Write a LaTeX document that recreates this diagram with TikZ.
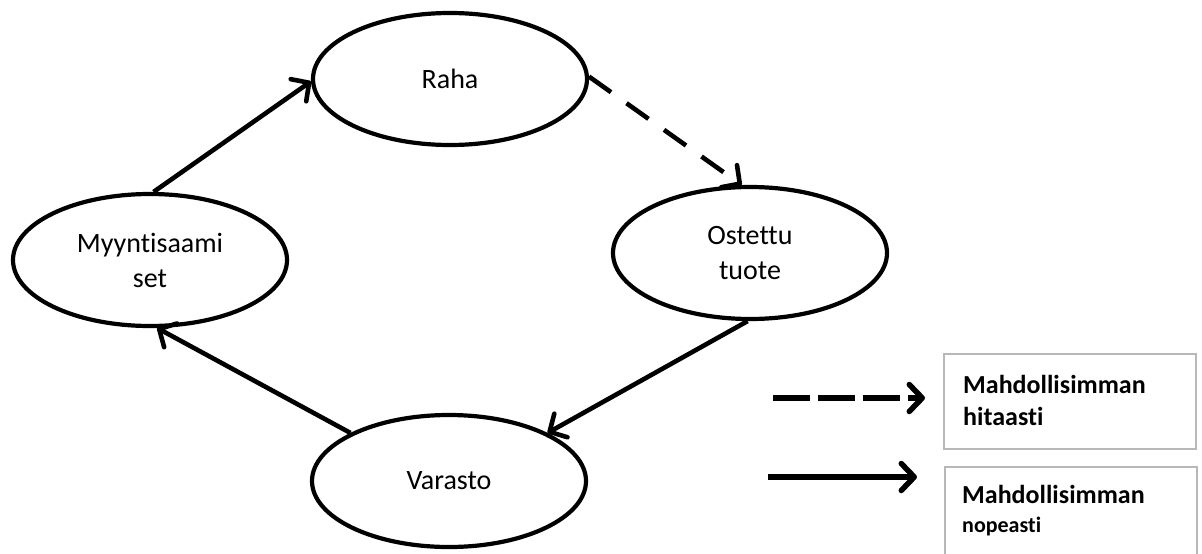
\documentclass[tikz,border=0pt]{standalone}
\usepackage{fontspec}
\setmainfont{Carlito}[Ligatures={NoCommon,NoContextual}]
\usetikzlibrary{shapes.geometric,arrows.meta}
\begin{document}
\begin{tikzpicture}[x=1pt,y=-1pt,
  state/.style={draw,ellipse,line width=4.2pt,minimum width=274pt,minimum height=132pt,inner sep=0pt,align=center,font=\fontsize{28}{35}\selectfont},
  flow/.style={line width=4.6pt,-{Straight Barb[length=13pt,width=27pt,line cap=round,line join=round]}},
  slowflow/.style={flow,dash pattern=on 27pt off 19pt},
  legbox/.style={draw=black!28,line width=2pt,minimum width=252pt,inner sep=0pt},
  legtext/.style={anchor=base west,inner sep=0pt,font=\bfseries\fontsize{26}{30}\selectfont}]
\useasboundingbox (0,0) rectangle (1202,554);
\node[state] (raha) at (450,79) {Raha};
\node[state] (ost) at (750,253) {Ostettu\\tuote};
\node[state] (myy) at (150,260) {Myyntisaami\\set};
\node[state] (var) at (449,481) {Varasto};
\draw[flow] (myy.87) -- (raha.181);
\draw[slowflow] (raha.1) -- (ost.97);
\draw[flow] (ost.268) -- (var.26);
\draw[flow] (var.154) -- (myy.276);
% legend
\node[legbox,minimum height=95pt] (box1) at (1070,401.5) {};
\node[legbox,minimum height=120pt] (box2) at (1070.5,527) {};
\node[legtext] (t1a) at (963,393) {Mahdollisimman};
\node[legtext] (t1b) at (963,425) {hitaasti};
\node[legtext] (t2a) at (962,503) {Mahdollisimman};
\node[legtext,font=\bfseries\fontsize{22}{26}\selectfont] (t2b) at (962,532) {nopeasti};
\coordinate (d1) at (773,398);
\coordinate (d2) at (925,398);
\coordinate (s1) at (768,477);
\coordinate (s2) at (917,477);
\draw[flow,line width=5.5pt,dash pattern=on 37pt off 8pt] (d1) -- (d2);
\draw[flow,line width=5.5pt] (s1) -- (s2);
\end{tikzpicture}
\end{document}
